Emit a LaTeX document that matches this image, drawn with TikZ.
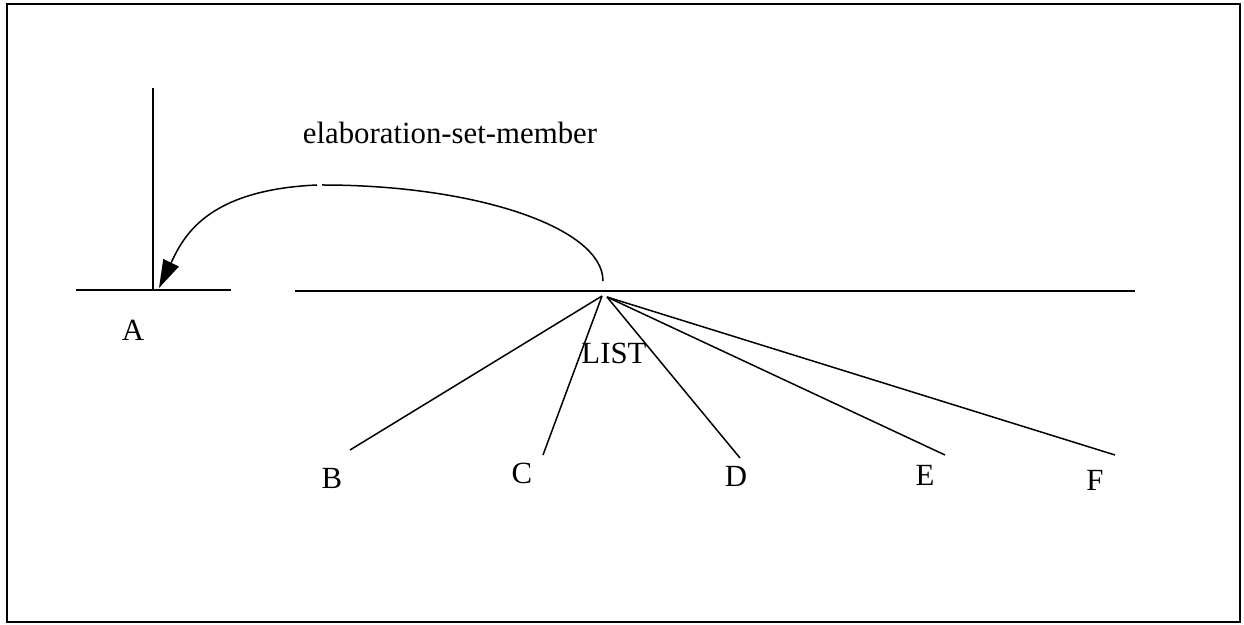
\documentclass[tikz,border=0pt]{standalone}
\usepackage{fontspec}
\setmainfont{Liberation Serif}
\usetikzlibrary{arrows.meta}
\begin{document}
\begin{tikzpicture}[x=0.5pt,y=-0.5pt,
  ln/.style={line width=0.75pt},
  lbl/.style={inner sep=0pt,font=\fontsize{15.4}{18}\selectfont},
  frame/.style={line width=1.1pt}]
\useasboundingbox (0,0) rectangle (1244,625);
\draw[frame] (7,4) rectangle (1240,622);

% head A with its vertical stem
\coordinate (aL) at (76,290);
\coordinate (aR) at (231,290);
\coordinate (aTop) at (153,88);
\coordinate (aFoot) at (153,290);
\coordinate (aTip) at (159,288);
\draw[ln] (aL) -- (aR);
\draw[ln] (aTop) -- (aFoot);
\node[lbl] (A) at (133,330) {A};

% the LIST line and its hub
\coordinate (lL) at (295,291);
\coordinate (lR) at (1135,291);
\draw[ln] (lL) -- (lR);
\coordinate (hubL) at (602,296);
\coordinate (hubR) at (607,297);
\coordinate (arcStart) at (603,281);
\node[lbl] (list) at (614,353) {LIST};

% branches to B..F
\coordinate (eB) at (350,450);
\coordinate (eC) at (543,455);
\coordinate (eD) at (740,458);
\coordinate (eE) at (945,455);
\coordinate (eF) at (1115,455);
\draw[ln] (hubL) -- (eB);
\draw[ln] (hubL) -- (eC);
\draw[ln] (hubR) -- (eD);
\draw[ln] (hubR) -- (eE);
\draw[ln] (hubR) -- (eF);
\node[lbl] (B) at (332,478) {B};
\node[lbl] (C) at (522,473) {C};
\node[lbl] (D) at (736,476) {D};
\node[lbl] (E) at (925,475) {E};
\node[lbl] (F) at (1095,480) {F};

% elaboration-set-member arc
\node[lbl] (rel) at (450,133) {elaboration-set-member};
\coordinate (arcTopR) at (322,185);
\coordinate (arcTopL) at (317,185);
\draw[ln] (arcStart) .. controls (603,228) and (477,185) .. (arcTopR);
\draw[ln,-{Triangle[length=14pt,width=8.5pt]}] (arcTopL) .. controls (205,190) and (183,238) .. (aTip);
\end{tikzpicture}
\end{document}
